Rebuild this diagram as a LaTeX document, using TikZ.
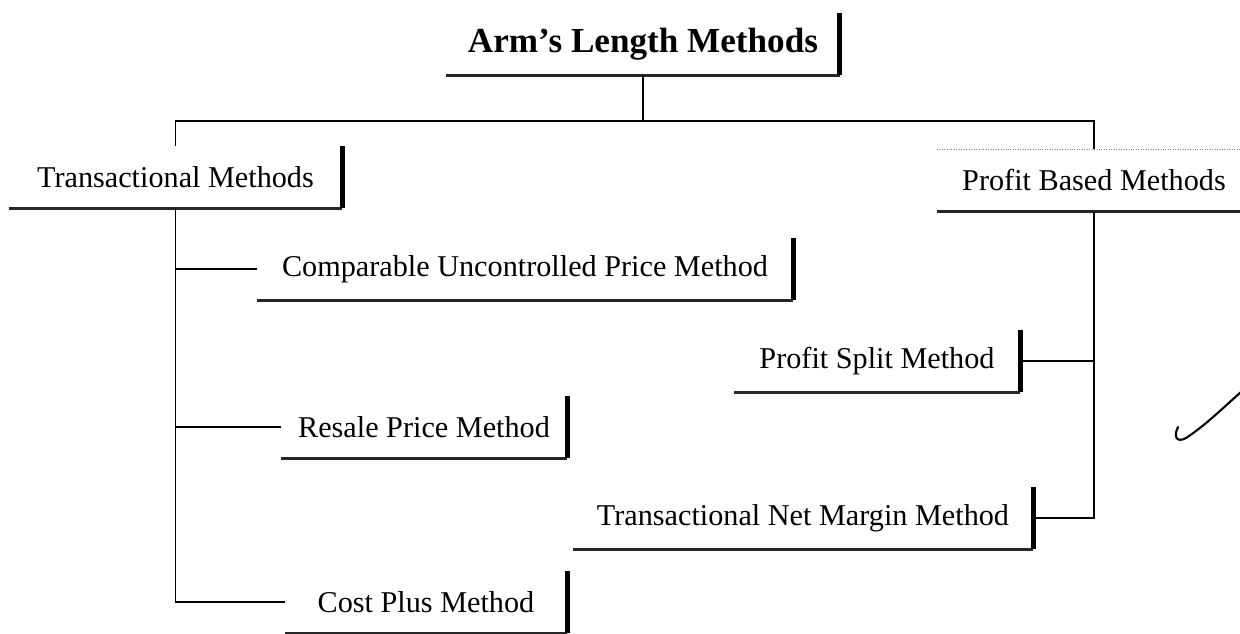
\documentclass[tikz,border=0pt]{standalone}
\usepackage{fontspec}
\setmainfont{Liberation Serif}
\usetikzlibrary{positioning,calc}

\begin{document}
\begin{tikzpicture}[x=0.02cm, y=-0.02cm,
        method/.style={rectangle, text centered, minimum height=1.24cm, inner xsep=0pt, font=\fontsize{17.2}{20}\selectfont},
        edge/.style={line width=2.8pt},
        base/.style={line width=1.6pt, black!85},
        link/.style={line width=1pt}]

        \useasboundingbox (0,0) rectangle (1240,633);

        \node[method, minimum width=7.86cm, font=\bfseries\fontsize{20}{24}\selectfont] (alm) at (643,44) {Arm's Length Methods};
        \node[method, minimum width=6.66cm] (trans) at (175.5,177) {Transactional Methods};
        \node[method, minimum width=6.28cm] (pbm) at (1094,180.5) {Profit Based Methods};
        \node[method, minimum width=10.72cm] (cup) at (525,269) {Comparable Uncontrolled Price Method};
        \node[method, minimum width=5.72cm] (psm) at (877,361) {Profit Split Method};
        \node[method, minimum width=5.72cm] (rpm) at (424,427) {Resale Price Method};
        \node[method, minimum width=9.2cm] (tnmm) at (803,518) {Transactional Net Margin Method};
        \node[method, minimum width=5.64cm] (cpm) at (426,602) {Cost Plus Method};

        % shadowed right and bottom edges
        \foreach \n in {alm,trans,pbm,cup,psm,rpm,tnmm,cpm} {
            \draw[base] (\n.south west) -- (\n.south east);
            \draw[edge] (\n.north east) -- (\n.south east);
        }
        \draw[densely dotted, black!50] (pbm.north west) -- (pbm.north east);

        \draw[link] (alm.south) -- ++(0,46) coordinate (split);
        \draw[link] (trans.north) |- (split) -| (pbm.north);

        \draw[link] (trans.south) |- (cup.west);
        \draw[link] (trans.south) |- (rpm.west);
        \draw[link] (trans.south) |- (cpm.west);

        \draw[link] (pbm.south) |- (psm.east);
        \draw[link] (pbm.south) |- (tnmm.east);

        % tick in the margin
        \draw[line width=1.2pt, line cap=round] (1178,427) .. controls (1173,437) and (1177,443) .. (1186,438) .. controls (1206,425) and (1226,405) .. (1241,392);
    \end{tikzpicture}
\end{document}
